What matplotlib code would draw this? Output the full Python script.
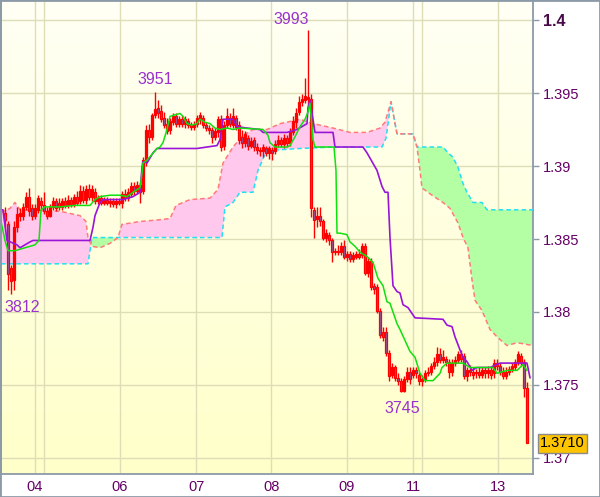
import matplotlib

matplotlib.use("Agg")
import matplotlib.pyplot as plt
import numpy as np
from matplotlib.patches import Rectangle
from matplotlib.transforms import blended_transform_factory

plt.rcParams["font.family"] = ["Liberation Sans", "DejaVu Sans"]

# prices are written as the last four digits: 3866 -> 1.3866
# one entry per hourly bar
opens = [3868, 3860, 3830, 3822, 3858, 3866, 3866, 3872, 3879, 3871, 3866, 3870, 3876, 3873, 3869,
         3866, 3872, 3876, 3875, 3872, 3876, 3873, 3877, 3874, 3879, 3876, 3883, 3877, 3884, 3879,
         3882, 3876, 3878, 3875, 3877, 3875, 3876, 3874, 3876, 3875, 3881, 3878, 3881, 3886, 3883,
         3887, 3883, 3904, 3925, 3920, 3935, 3940, 3938, 3933, 3929, 3925, 3930, 3934, 3929, 3932,
         3929, 3931, 3928, 3927, 3929, 3932, 3933, 3928, 3926, 3925, 3920, 3923, 3932, 3914, 3928,
         3933, 3928, 3933, 3928, 3920, 3916, 3919, 3914, 3918, 3913, 3911, 3910, 3912, 3909, 3911,
         3910, 3915, 3918, 3915, 3919, 3916, 3923, 3930, 3937, 3944, 3945, 3946, 3946, 3870, 3864,
         3866, 3862, 3851, 3853, 3849, 3841, 3842, 3841, 3845, 3838, 3840, 3836, 3838, 3840, 3839,
         3845, 3827, 3835, 3818, 3817, 3801, 3786, 3786, 3772, 3757, 3762, 3755, 3753, 3746, 3754,
         3759, 3757, 3760, 3757, 3753, 3754, 3758, 3759, 3763, 3766, 3771, 3767, 3768, 3766, 3759,
         3765, 3767, 3771, 3770, 3756, 3760, 3759, 3758, 3759, 3757, 3760, 3758, 3760, 3758, 3765,
         3763, 3759, 3756, 3759, 3761, 3762, 3766, 3770, 3766, 3748]
highs = [3872, 3862, 3832, 3862, 3872, 3871, 3875, 3882, 3885, 3874, 3874, 3880, 3879, 3882, 3872,
         3874, 3879, 3878, 3878, 3878, 3879, 3880, 3879, 3881, 3883, 3887, 3886, 3887, 3888, 3887,
         3885, 3880, 3880, 3879, 3879, 3878, 3878, 3878, 3878, 3883, 3884, 3885, 3889, 3889, 3890,
         3889, 3906, 3928, 3929, 3936, 3951, 3945, 3942, 3937, 3933, 3933, 3936, 3936, 3934, 3934,
         3934, 3933, 3930, 3931, 3935, 3937, 3935, 3930, 3928, 3927, 3926, 3934, 3935, 3931, 3940,
         3936, 3940, 3935, 3931, 3925, 3924, 3921, 3920, 3920, 3916, 3913, 3915, 3914, 3914, 3913,
         3918, 3921, 3920, 3922, 3921, 3926, 3934, 3940, 3948, 3949, 3960, 3993, 3949, 3872, 3872,
         3872, 3864, 3857, 3855, 3851, 3844, 3846, 3848, 3849, 3842, 3842, 3841, 3842, 3843, 3847,
         3847, 3838, 3837, 3820, 3819, 3803, 3790, 3790, 3774, 3765, 3764, 3758, 3755, 3756, 3762,
         3762, 3762, 3762, 3759, 3757, 3760, 3762, 3765, 3769, 3776, 3775, 3774, 3770, 3768, 3768,
         3770, 3773, 3774, 3772, 3762, 3764, 3762, 3761, 3762, 3762, 3762, 3763, 3762, 3768, 3768,
         3765, 3762, 3762, 3763, 3765, 3768, 3773, 3772, 3768, 3752]
lows = [3858, 3815, 3812, 3815, 3855, 3862, 3863, 3870, 3866, 3863, 3864, 3868, 3870, 3867, 3864,
        3865, 3870, 3869, 3870, 3870, 3871, 3871, 3872, 3872, 3873, 3874, 3875, 3874, 3877, 3876,
        3874, 3874, 3873, 3873, 3873, 3872, 3872, 3871, 3873, 3871, 3876, 3876, 3879, 3880, 3881,
        3875, 3881, 3900, 3916, 3918, 3933, 3933, 3930, 3926, 3922, 3922, 3928, 3927, 3927, 3927,
        3926, 3926, 3925, 3925, 3927, 3929, 3926, 3924, 3922, 3916, 3918, 3920, 3910, 3911, 3926,
        3927, 3926, 3925, 3915, 3912, 3913, 3911, 3912, 3910, 3908, 3907, 3906, 3907, 3905, 3904,
        3908, 3913, 3913, 3912, 3913, 3914, 3921, 3926, 3935, 3941, 3943, 3942, 3865, 3851, 3858,
        3859, 3849, 3848, 3846, 3834, 3839, 3839, 3839, 3836, 3835, 3834, 3834, 3836, 3836, 3837,
        3825, 3824, 3815, 3812, 3799, 3782, 3780, 3770, 3753, 3755, 3753, 3750, 3745, 3745, 3752,
        3751, 3755, 3755, 3750, 3749, 3752, 3756, 3757, 3761, 3763, 3765, 3765, 3763, 3755, 3756,
        3763, 3765, 3766, 3754, 3753, 3756, 3754, 3755, 3755, 3755, 3755, 3755, 3754, 3755, 3760,
        3757, 3754, 3754, 3757, 3759, 3760, 3764, 3763, 3742, 3710]
closes = [3863, 3826, 3821, 3858, 3867, 3868, 3872, 3879, 3869, 3866, 3871, 3878, 3873, 3869, 3866,
          3872, 3876, 3871, 3872, 3876, 3873, 3877, 3874, 3879, 3875, 3883, 3877, 3884, 3879, 3884,
          3876, 3878, 3875, 3877, 3875, 3876, 3874, 3876, 3875, 3881, 3878, 3882, 3886, 3883, 3887,
          3882, 3904, 3925, 3920, 3935, 3939, 3936, 3932, 3928, 3924, 3931, 3934, 3929, 3932, 3929,
          3932, 3928, 3927, 3929, 3933, 3935, 3928, 3926, 3925, 3920, 3924, 3932, 3913, 3928, 3934,
          3929, 3934, 3927, 3918, 3916, 3922, 3914, 3917, 3913, 3911, 3910, 3913, 3909, 3912, 3909,
          3915, 3918, 3915, 3919, 3916, 3923, 3931, 3936, 3944, 3946, 3948, 3947, 3871, 3863, 3866,
          3862, 3851, 3854, 3849, 3841, 3842, 3841, 3845, 3838, 3840, 3836, 3839, 3840, 3838, 3845,
          3827, 3835, 3817, 3816, 3801, 3784, 3783, 3772, 3756, 3762, 3755, 3753, 3746, 3754, 3759,
          3754, 3760, 3758, 3753, 3754, 3758, 3759, 3763, 3766, 3771, 3767, 3769, 3766, 3759, 3765,
          3767, 3771, 3768, 3756, 3760, 3759, 3757, 3759, 3757, 3760, 3758, 3760, 3757, 3765, 3763,
          3759, 3756, 3759, 3761, 3763, 3766, 3771, 3766, 3748, 3710]

# ichimoku lines, breakpoints as (bar, price)
tenkan_x = [-1.33, 0, 1, 3.33, 6.67, 10, 11.33, 12, 13.33, 18.33, 23.33, 28.33, 30, 31.67, 35, 38.33,
            40.67, 42.67, 45, 45.67, 46, 47.33, 49, 50.67, 51.67, 52.67, 54, 55, 58.33, 59.33, 60.67,
            62.33, 64, 65, 66.67, 68.33, 70, 71.67, 74, 76, 78.33, 86, 87.67, 88.33, 90, 94, 95,
            96.67, 98.33, 100, 101, 101.67, 102.67, 103.33, 109.67, 110.33, 110.67, 111.67, 114, 115,
            116.67, 118.33, 120.67, 122.67, 124.33, 126, 127.33, 128.33, 130.67, 131.67, 135, 136.67,
            138.33, 140, 142.67, 145, 145.67, 147.33, 152.67, 155, 162.67, 164, 167.33, 170.67,
            172.67, 174]
tenkan_y = [3862, 3849, 3842, 3842, 3844, 3846, 3849, 3870, 3872, 3872, 3873, 3873, 3877, 3879, 3880,
            3880, 3879, 3882, 3885, 3895, 3902, 3904, 3908, 3912, 3913, 3916, 3925, 3934, 3936, 3934,
            3929, 3928, 3929, 3932, 3930, 3929, 3926, 3925, 3926, 3925, 3926, 3925, 3921, 3916, 3913,
            3913, 3914, 3920, 3927, 3932, 3937, 3943, 3918, 3913, 3913, 3897, 3854, 3854, 3853, 3848,
            3845, 3841, 3838, 3834, 3823, 3818, 3807, 3806, 3792, 3788, 3773, 3769, 3758, 3753, 3753,
            3758, 3762, 3765, 3765, 3762, 3762, 3758, 3760, 3760, 3764, 3760]

kijun_x = [-1.33, -0.67, 0.67, 4, 5, 6.67, 8.33, 9.33, 28.33, 29.33, 30, 31.67, 32.67, 39.33, 42.67,
           45, 45.67, 46, 47.33, 49.33, 50.67, 64, 67.33, 70.67, 71.67, 72.67, 76, 77.33, 80.67, 85,
           86, 94, 97.33, 100.67, 101, 101.67, 102.67, 103.33, 109.33, 110, 119.33, 120.67, 124,
           125.67, 126.67, 127.67, 128.33, 129, 129.33, 130.67, 131.67, 132.67, 134.33, 136.67, 146,
           147.33, 149, 150, 151.67, 152.67, 154, 155.67, 157.33, 161.67, 165, 174, 175]
kijun_y = [3870, 3870, 3849, 3846, 3844, 3846, 3848, 3849, 3849, 3858, 3866, 3875, 3877, 3877, 3879,
           3882, 3899, 3903, 3902, 3909, 3912, 3912, 3913, 3914, 3918, 3932, 3932, 3927, 3926, 3925,
           3923, 3923, 3925, 3929, 3940, 3945, 3932, 3923, 3923, 3913, 3913, 3909, 3897, 3886, 3882,
           3882, 3851, 3829, 3818, 3814, 3813, 3805, 3803, 3796, 3795, 3791, 3790, 3783, 3774, 3769,
           3766, 3760, 3762, 3762, 3765, 3765, 3755]

span_a_x = [-1.33, 1.67, 3.33, 5, 18.33, 25, 27, 27.67, 29, 31.67, 35, 37.67, 39, 45, 50.67, 55, 57,
            61.67, 68.33, 71, 72.67, 76, 79.33, 82.67, 87.33, 91.67, 98.33, 102.67, 105, 109.33, 115,
            120.67, 125, 126.67, 128.67, 130.67, 136, 137.33, 138.33, 139, 142.33, 146, 148.33, 151,
            152.67, 154.33, 155.67, 156.67, 159, 161.67, 164, 167.33, 170.67, 176]
span_a_y = [3868, 3871, 3875, 3870, 3869, 3866, 3862, 3851, 3845, 3844, 3847, 3851, 3860, 3862, 3863,
            3864, 3873, 3877, 3878, 3884, 3902, 3913, 3921, 3925, 3925, 3929, 3932, 3929, 3928, 3926,
            3923, 3923, 3926, 3930, 3944, 3922, 3922, 3913, 3897, 3885, 3880, 3875, 3871, 3861, 3851,
            3844, 3822, 3808, 3801, 3788, 3783, 3777, 3779, 3777]

span_b_x = [-1.33, 27.67, 28.33, 29, 72.33, 73.33, 76, 78.33, 82.67, 84.33, 86.67, 90.67, 98.33,
            109.33, 125.67, 127, 128.67, 130.67, 136, 137.33, 146, 147.67, 149.33, 151, 152.67, 154,
            156, 159, 160.67, 176]
span_b_y = [3833, 3833, 3842, 3851, 3851, 3872, 3875, 3882, 3882, 3897, 3908, 3911, 3912, 3913, 3913,
            3919, 3944, 3922, 3922, 3913, 3913, 3909, 3906, 3899, 3888, 3882, 3875, 3875, 3870, 3870]

day_pos = [10, 38.3, 63.7, 88.7, 114, 136, 164.3]
day_labels = ["04", "06", "07", "08", "09", "11", "13"]
extra_grid = [13, 139]
price_ticks = [1.37, 1.375, 1.38, 1.385, 1.39, 1.395, 1.4]
price_labels = ["1.37", "1.375", "1.38", "1.385", "1.39", "1.395", "1.4"]

# (bar, price, text, dx points, dy points, va)
extremes = [
    (1, 3812, "3812", 10, -4, "top"),
    (50, 3951, "3951", 0, 3, "bottom"),
    (101, 3993, "3993", -12, 2, "bottom"),
    (132.5, 3745, "3745", 0, -6, "top"),
]
last_price = 3710


def to_price(v):
    return 1.0 + np.asarray(v, dtype=float) / 10000.0


def main():
    fig = plt.figure(figsize=(6.0, 4.97), dpi=100)
    ax = fig.add_axes([1 / 600, 23 / 497, 532 / 600, 474 / 497])

    # background gradient, whitish at top to pale yellow at bottom
    grad = np.linspace(0, 1, 256).reshape(-1, 1)
    top = np.array([1.0, 1.0, 0.96])
    bot = np.array([1.0, 1.0, 0.79])
    img = top + (bot - top) * grad[:, :, None]
    ax.imshow(img, extent=[0, 1, 0, 1], transform=ax.transAxes, aspect="auto", zorder=0)

    grid_col = "#ddddb8"
    for p in price_ticks:
        ax.axhline(p, color=grid_col, lw=1, zorder=1)
    for x in day_pos + extra_grid:
        ax.axvline(x, color=grid_col, lw=1, zorder=1)

    # cloud
    xa, ya = np.array(span_a_x), to_price(span_a_y)
    xb, yb = np.array(span_b_x), to_price(span_b_y)
    xg = np.union1d(xa, xb)
    a = np.interp(xg, xa, ya)
    b = np.interp(xg, xb, yb)
    ax.fill_between(xg, a, b, where=a >= b, interpolate=True, color="#ffc8ec", lw=0, zorder=2)
    ax.fill_between(xg, a, b, where=a < b, interpolate=True, color="#b4ffa4", lw=0, zorder=2)
    ax.plot(xb, yb, color="#22e0f0", lw=1.1, dashes=(3, 2), zorder=3)
    ax.plot(xa, ya, color="#ff7a7a", lw=1.1, dashes=(3, 2), zorder=3)

    # candles
    o = to_price(opens)
    h = to_price(highs)
    lo = to_price(lows)
    c = to_price(closes)
    idx = np.arange(len(opens))
    ax.vlines(idx, lo, h, color="#ff0000", lw=1, zorder=4)
    face = ["#7a62b0" if cc < oo else "none" for oo, cc in zip(o, c)]
    body = np.where(np.abs(c - o) < 1e-6, 0.00003, c - o)
    ax.bar(idx, body, bottom=o, width=0.72, facecolor=face, edgecolor="#ff0000", linewidth=0.9, zorder=4)

    ax.plot(kijun_x, to_price(kijun_y), color="#9a14d8", lw=1.2, zorder=5)
    ax.plot(tenkan_x, to_price(tenkan_y), color="#10e010", lw=1.1, zorder=5)

    for bx, bp, txt, dx, dy, va in extremes:
        ax.annotate(txt, xy=(bx, to_price(bp)), xytext=(dx, dy), textcoords="offset points",
                    ha="center", va=va, fontsize=11.5, color="#9932cc", zorder=6)

    ax.set_xlim(-1.33, 176)
    ax.set_ylim(1.368904, 1.401370)

    ax.yaxis.tick_right()
    ax.set_yticks(price_ticks)
    ax.set_yticklabels(price_labels)
    ax.set_xticks(day_pos)
    ax.set_xticklabels(day_labels)
    ax.tick_params(axis="y", length=4, width=1, color="#8c9aa8", pad=3, labelsize=10.5, labelcolor="#660066")
    ax.tick_params(axis="x", length=0, pad=4, labelsize=10.5, labelcolor="#660066")
    ax.get_yticklabels()[-1].set_fontweight("bold")
    ax.get_yticklabels()[-1].set_fontsize(11.5)
    ax.get_yticklabels()[-1].set_color("#4a0a4a")

    for s in ax.spines.values():
        s.set_color("#8c9aa8")
        s.set_linewidth(1.3)

    # last price tag on the right axis
    trans = blended_transform_factory(ax.transAxes, ax.transData)
    ax.text(1.013, to_price(last_price), "1.3710", transform=trans, ha="left", va="center",
            fontsize=10.5, color="#000000", zorder=7, clip_on=False,
            bbox=dict(boxstyle="square,pad=0.15", facecolor="#ffc400", edgecolor="#8a8a8a", lw=1))

    fig.patches.append(Rectangle((0, 0), 1, 1, transform=fig.transFigure, fill=False,
                                 edgecolor="#8c9aa8", lw=2))

    fig.savefig("out.png", dpi=100)


if __name__ == "__main__":
    main()
